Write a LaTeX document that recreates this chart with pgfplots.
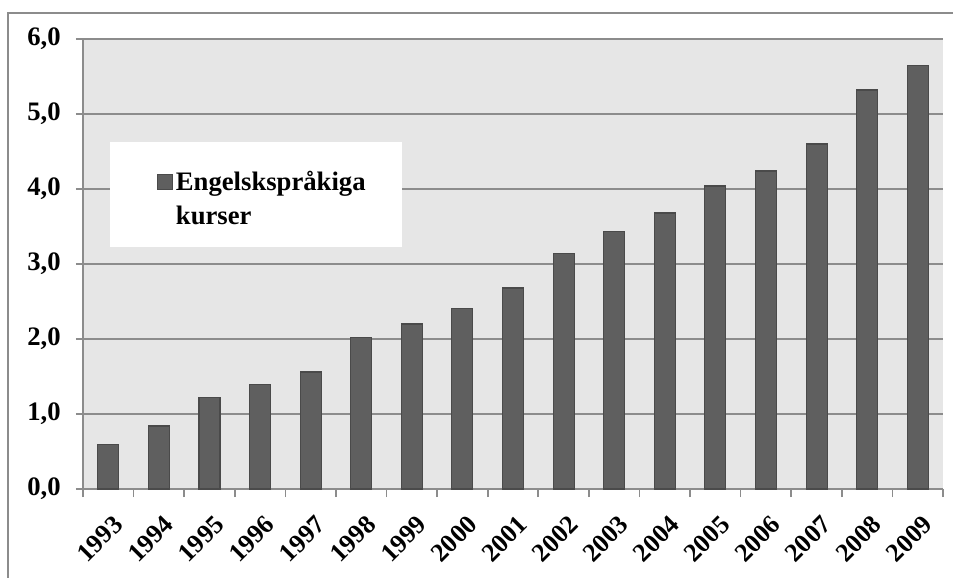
\documentclass[border=0pt]{standalone}
\usepackage{fontspec}
\setmainfont{Liberation Serif}
\usepackage{pgfplots}
\pgfplotsset{compat=1.18}
\definecolor{barfill}{HTML}{5F5F5F}
\definecolor{baredge}{HTML}{4A4A4A}
\definecolor{bg}{HTML}{E6E6E6}
\definecolor{gridc}{HTML}{8C8C8C}
\begin{document}
\begin{tikzpicture}
\useasboundingbox (-62.25pt,-66.75pt) rectangle (652.5pt,366.75pt);
\begin{axis}[at={(0pt,0pt)}, anchor=south west, scale only axis,
  width=645pt, height=337.5pt,
  xmin=-0.5, xmax=16.5, ymin=0, ymax=6,
  axis lines=left, axis line style={-, gridc, line width=1.2pt},
  axis background/.style={fill=bg},
  ytick={0,1,2,3,4,5,6}, ymajorgrids, grid style={gridc, line width=1.2pt},
  xtick={0,...,16},
  xticklabels={1993,1994,1995,1996,1997,1998,1999,2000,2001,2002,2003,2004,2005,2006,2007,2008,2009},
  minor xtick={-0.5,0.5,...,16.5},
  major x tick style={draw=none},
  tick align=outside,
  tick style={gridc, line width=1.2pt},
  major tick length=5.25pt, minor tick length=6pt,
  yticklabel style={font=\bfseries\fontsize{20}{24}\selectfont, xshift=-8pt},
  xticklabel style={font=\bfseries\fontsize{19.5}{22}\selectfont, rotate=45, anchor=north east, inner sep=1pt, yshift=-10.5pt, xshift=-6.5pt},
  /pgf/number format/.cd, fixed, fixed zerofill, precision=1, use comma, assume math mode=true,
  /pgfplots/.cd,
  legend style={at={(rel axis cs:0.086,0.713)}, anchor=north west, draw=none, fill=none,
    font=\bfseries\fontsize{20}{22.5}\selectfont, inner sep=0pt, cells={align=left}},
  legend image code/.code={\draw[draw=baredge, fill=barfill, line width=0.8pt] (0pt,6.8pt) rectangle (11.25pt,18pt);},
]
\fill[white] (rel axis cs:0.0314,0.771) rectangle (rel axis cs:0.3709,0.5378);
\addplot[ybar, bar width=15.75pt, fill=barfill, draw=baredge, line width=0.8pt] coordinates {
(0,0.59) (1,0.84) (2,1.22) (3,1.39) (4,1.56) (5,2.02) (6,2.20) (7,2.41) (8,2.68)
(9,3.14) (10,3.43) (11,3.68) (12,4.04) (13,4.24) (14,4.60) (15,5.32) (16,5.65)};
\addlegendentry{Engelskspråkiga\\[3pt]kurser}
\end{axis}
\draw[gridc, line width=1.5pt] (-56.25pt,-80pt) -- (-56.25pt,357pt) -- (670pt,357pt);
\end{tikzpicture}
\end{document}
